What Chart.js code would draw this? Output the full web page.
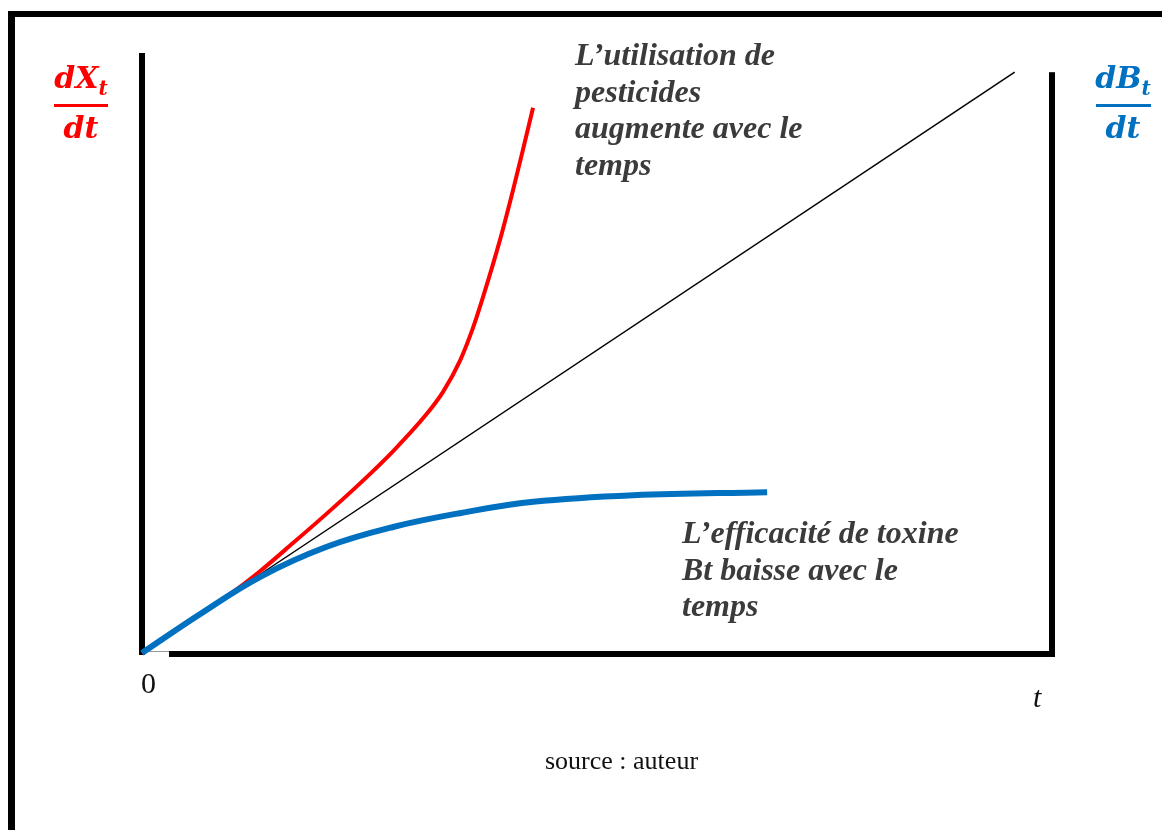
<!DOCTYPE html>
<html lang="fr">
<head>
<meta charset="utf-8">
<title>Pesticides et toxine Bt</title>
<script src="https://cdn.jsdelivr.net/npm/chart.js@4.4.0/dist/chart.umd.min.js"></script>
<style>
    html, body { margin: 0; padding: 0; background: #fff; }
    #wrap { position: relative; width: 1162px; height: 830px; overflow: hidden; background: #fff; }
    #frame { position: absolute; left: 8px; top: 11px; width: 1300px; height: 1000px;
             border-top: 6px solid #000; border-left: 7px solid #000; }
    #chart { position: absolute; left: 0; top: 0; }
    .note { position: absolute; font-family: "Liberation Serif", "Times New Roman", serif;
            font-weight: bold; font-style: italic; font-size: 32px; line-height: 36.7px;
            color: #3b3b3b; white-space: nowrap; }
    .plain { position: absolute; font-family: "Liberation Serif", "Times New Roman", serif;
             color: #111; white-space: nowrap; }
    .frac { position: absolute; font-family: "DejaVu Serif", serif; font-weight: bold;
            font-style: italic; font-size: 30px; line-height: 30px; text-align: center; }
    .frac sub { font-size: 20px; vertical-align: -7px; line-height: 0; }
    .bar { position: absolute; height: 3px; }
</style>
</head>
<body>
<div id="wrap">
    <div id="frame"></div>
    <canvas id="chart" width="1162" height="830"></canvas>

    <div class="frac" style="left:44px; top:63px; width:74px; color:#ff0000;">dX<sub>t</sub></div>
    <div class="bar" style="left:54px; top:104px; width:54px; background:#ff0000;"></div>
    <div class="frac" style="left:44px; top:113px; width:74px; color:#ff0000;">dt</div>

    <div class="frac" style="left:1086px; top:63px; width:74px; color:#0070c0;">dB<sub>t</sub></div>
    <div class="bar" style="left:1096px; top:104px; width:55px; background:#0070c0;"></div>
    <div class="frac" style="left:1086px; top:113px; width:74px; color:#0070c0;">dt</div>

    <div class="note" style="left:575px; top:36px;">L’utilisation de<br>pesticides<br>augmente avec le<br>temps</div>
    <div class="note" style="left:682px; top:514px;">L’efficacité de toxine<br>Bt baisse avec le<br>temps</div>

    <div class="plain" style="left:141px; top:668px; font-size:30px; line-height:30px;">0</div>
    <div class="plain" style="left:1033px; top:682px; font-size:30px; line-height:30px; font-style:italic;">t</div>
    <div class="plain" style="left:545px; top:748px; font-size:26px; line-height:26px;">source : auteur</div>
</div>

<script>
// time axis runs 0..100, both rates 0..100 (arbitrary units, no ticks shown)
const refTime = [0, 95.9];
const refRate = [0, 96.8];

const pestTime = [0, 6.37, 9.67, 12.97, 16.59, 20.33, 23.96, 27.58, 31.32, 33.08, 34.95, 36.37, 37.47, 39.34, 40.77, 41.87, 42.97];
const pestRate = [0, 6.45, 9.80, 13.63, 18.32, 23.27, 28.27, 33.62, 39.90, 43.52, 48.73, 54.18, 59.30, 68.85, 77.13, 83.92, 90.87];

const btTime = [0, 6.4, 13.0, 20.3, 27.6, 34.9, 43.0, 54.0, 68.7];
const btRate = [0, 6.5, 12.7, 17.7, 21.0, 23.3, 25.2, 26.3, 26.8];

const toPoints = (xs, ys) => xs.map((x, i) => ({ x, y: ys[i] }));

const axisLines = {
    id: 'axisLines',
    beforeDatasetsDraw(chart) {
        const { ctx, scales: { x, y } } = chart;
        const x0 = x.getPixelForValue(0);
        const x1 = x.getPixelForValue(100);
        const y0 = y.getPixelForValue(0);
        const xStart = x.getPixelForValue(2.97);
        ctx.save();
        ctx.fillStyle = '#000';
        // left axis (X_t)
        ctx.fillRect(x0 - 3, y.getPixelForValue(100), 6, y0 - y.getPixelForValue(100) + 2);
        // right axis (B_t)
        ctx.fillRect(x1 - 3, y.getPixelForValue(96.8), 6, y0 - y.getPixelForValue(96.8) + 4);
        // time axis
        ctx.fillRect(xStart, y0 - 2, x1 + 3 - xStart, 6);
        ctx.fillStyle = '#999';
        ctx.fillRect(x0, y0 - 2, xStart - x0, 1);
        ctx.restore();
    },
};

const canvas = document.getElementById('chart');
new Chart(canvas, {
    type: 'scatter',
    data: {
        datasets: [
            {
                label: 'Référence',
                data: toPoints(refTime, refRate),
                showLine: true,
                borderColor: '#000',
                borderWidth: 1.5,
                pointRadius: 0,
                clip: false,
                order: 3,
            },
            {
                label: 'Pesticides',
                data: toPoints(pestTime, pestRate),
                showLine: true,
                borderColor: '#ff0000',
                borderWidth: 4,
                pointRadius: 0,
                cubicInterpolationMode: 'monotone',
                clip: false,
                order: 2,
            },
            {
                label: 'Toxine Bt',
                data: toPoints(btTime, btRate),
                showLine: true,
                borderColor: '#0070c0',
                borderWidth: 6,
                pointRadius: 0,
                tension: 0.4,
                clip: false,
                order: 1,
            },
        ],
    },
    options: {
        responsive: false,
        animation: false,
        layout: { padding: { left: 142, right: 110, top: 53, bottom: 177 } },
        scales: {
            x: { type: 'linear', min: 0, max: 100, display: false },
            y: { type: 'linear', min: 0, max: 100, display: false },
        },
        plugins: {
            legend: { display: false },
            tooltip: { enabled: false },
        },
    },
    plugins: [axisLines],
});
</script>
</body>
</html>
